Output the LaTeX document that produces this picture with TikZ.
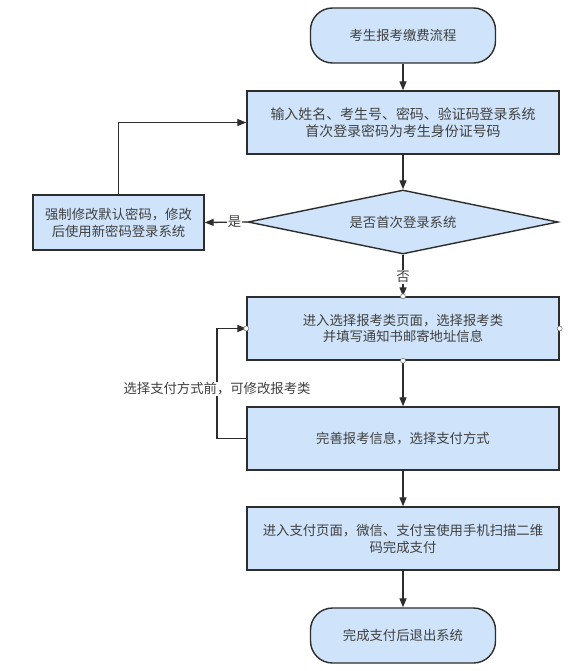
\documentclass[tikz,border=0pt]{standalone}
\usepackage{fontspec}
\setmainfont{Noto Sans CJK SC}
\usetikzlibrary{shapes.geometric,arrows.meta}
\definecolor{boxfill}{RGB}{207,228,250}
\definecolor{boxline}{RGB}{45,45,45}
\definecolor{txt}{RGB}{64,64,64}
\begin{document}
\begin{tikzpicture}[x=1bp,y=-1bp,
  every node/.style={font=\fontsize{13.4}{17}\selectfont, text=txt},
  proc/.style={draw=boxline, line width=1.4bp, fill=boxfill, minimum width=312bp, minimum height=63bp, inner sep=0pt, align=center},
  smallproc/.style={draw=boxline, line width=1.4bp, fill=boxfill, minimum width=171bp, minimum height=55bp, inner sep=0pt, align=center},
  term/.style={draw=boxline, line width=1.4bp, fill=boxfill, rounded corners=22bp, minimum width=185bp, minimum height=55bp, inner sep=0pt, align=center},
  dec/.style={draw=boxline, line width=1.4bp, fill=boxfill, diamond, aspect=4.84, minimum width=310bp, minimum height=64bp, inner sep=0pt},
  arr/.style={draw=boxline, line width=1.3bp, -{Triangle[length=9bp,width=7bp]}},
  port/.style={circle, draw=gray, fill=white, line width=0.6bp, minimum size=5bp, inner sep=0pt},
  lab/.style={fill=white, inner sep=1bp}
]
\useasboundingbox (0,0) rectangle (582,671);
\fill[white] (0,0) rectangle (582,671);

\node[term] (start) at (403,35.5) {考生报考缴费流程};
\node[proc, font=\fontsize{14}{17}\selectfont] (login) at (403,122.5) {输入姓名、考生号、密码、验证码登录系统\\首次登录密码为考生身份证号码};
\node[dec] (first) at (403,222) {是否首次登录系统};
\node[smallproc] (force) at (118.5,222.5) {强制修改默认密码，修改\\后使用新密码登录系统};
\node[proc] (select) at (403,328.5) {进入选择报考类页面，选择报考类\\并填写通知书邮寄地址信息};
\node[proc] (info) at (403,438.5) {完善报考信息，选择支付方式};
\node[proc] (pay) at (403,538.5) {进入支付页面，微信、支付宝使用手机扫描二维\\码完成支付};
\node[term] (end) at (403,635.5) {完成支付后退出系统};

\coordinate (loopb) at (217,438.5);
\coordinate (loopt) at (217,328.5);

\draw[arr] (start) -- (login);
\draw[arr] (login) -- (first);
\draw[arr] (first.west) -- node[lab, pos=0.3] {是} (force.east);
\draw[arr] (force.north) |- (login.west);
\draw[arr] (first.south) -- node[lab, pos=0.53] {否} (select.north);
\draw[arr] (select) -- (info);
\draw[arr] (info.west) -- (loopb) -- node[lab, pos=0.45] {选择支付方式前，可修改报考类} (loopt) -- (select.west);
\draw[arr] (info) -- (pay);
\draw[arr] (pay) -- (end);

\node[port] (pn) at (select.north) {};
\node[port] (pw) at (select.west) {};
\node[port] (pe) at (select.east) {};
\node[port] (ps) at (select.south) {};
\end{tikzpicture}
\end{document}
